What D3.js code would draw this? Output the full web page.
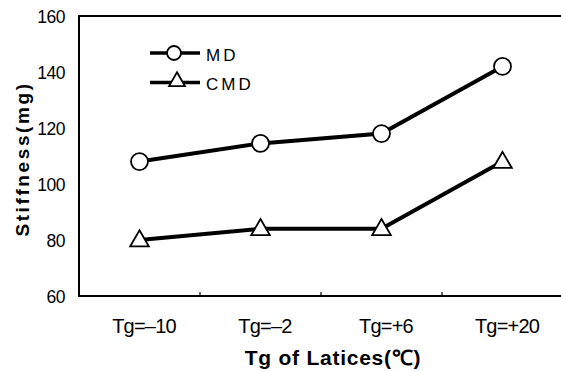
<!DOCTYPE html>
<html><head><meta charset="utf-8">
<script src="https://cdn.jsdelivr.net/npm/d3@7"></script>
<style>
body{margin:0;background:#fff;}
svg{display:block;font-family:"Liberation Sans",Arial,sans-serif;}
</style></head>
<body><svg id="c" width="561" height="371"></svg>
<script>
const categories = ["Tg=-10","Tg=-2","Tg=+6","Tg=+20"];
const mdValues = [108, 114.5, 118, 142];
const cmdValues = [80, 84, 84, 108];
const yTicks = [60, 80, 100, 120, 140, 160];
const seriesNames = ["MD", "CMD"];

(function(){
const svg = d3.select("#c");
const pLeft = 79, pRight = 563, pTop = 16, pBottom = 296;
const x = d3.scaleBand().domain(categories).range([pLeft, pRight]);
const y = d3.scaleLinear().domain([60, 160]).range([pBottom, pTop]);

svg.append("rect").attr("x", pLeft).attr("y", pTop).attr("width", pRight-pLeft).attr("height", pBottom-pTop)
  .attr("fill","none").attr("stroke","#000").attr("stroke-width",2);

svg.append("g").selectAll("line").data(categories.slice(1)).join("line")
  .attr("x1", d=>x(d)).attr("x2", d=>x(d)).attr("y1", pBottom).attr("y2", pBottom-4)
  .attr("stroke","#000").attr("stroke-width",1.2);

svg.append("g").selectAll("text").data(yTicks).join("text")
  .attr("x", 65).attr("y", d=>y(d)+6.5).attr("text-anchor","end")
  .attr("font-size",17.5).attr("letter-spacing",-0.5).text(d=>d);

svg.append("g").selectAll("text").data(categories).join("text")
  .attr("x", d=>x(d)+x.bandwidth()/2+4.5).attr("y", 333).attr("text-anchor","middle")
  .attr("font-size",20).attr("letter-spacing",-0.8).text(d=>d.replace("-","–"));

svg.append("text").attr("x", 333).attr("y", 365).attr("text-anchor","middle")
  .attr("font-size",21).attr("font-weight","bold").attr("letter-spacing",0.75).text("Tg of Latices(℃)");
svg.append("text").attr("transform","translate(29,159) rotate(-90)").attr("text-anchor","middle")
  .attr("font-size",19).attr("font-weight","bold").attr("letter-spacing",2.6).text("Stiffness(mg)");

const cx = d => x(d)+x.bandwidth()/2;
const line = d3.line().x(d=>cx(d[0])).y(d=>y(d[1]));
const mdData = categories.map((c,i)=>[c, mdValues[i]]);
const cmdData = categories.map((c,i)=>[c, cmdValues[i]]);

[mdData, cmdData].forEach(data=>{
  svg.append("path").attr("d", line(data)).attr("fill","none").attr("stroke","#000").attr("stroke-width",4);
});

const tri = d3.symbol().type(d3.symbolTriangle).size(150);

svg.append("g").selectAll("circle").data(mdData).join("circle")
  .attr("cx", d=>cx(d[0])).attr("cy", d=>y(d[1])).attr("r",8.5)
  .attr("fill","#fff").attr("stroke","#000").attr("stroke-width",1.8);
svg.append("g").selectAll("path").data(cmdData).join("path")
  .attr("d", tri).attr("transform", d=>`translate(${cx(d[0])},${y(d[1])+1})`)
  .attr("fill","#fff").attr("stroke","#000").attr("stroke-width",1.8);

const lg = svg.append("g");
[53, 82.5].forEach((ly,i)=>{
  lg.append("line").attr("x1",150).attr("x2",200).attr("y1",ly).attr("y2",ly).attr("stroke","#000").attr("stroke-width",3.5);
  if(i===0) lg.append("circle").attr("cx",174).attr("cy",ly).attr("r",7).attr("fill","#fff").attr("stroke","#000").attr("stroke-width",1.8);
  else lg.append("path").attr("d", d3.symbol().type(d3.symbolTriangle).size(110)).attr("transform",`translate(177,${ly-1})`)
    .attr("fill","#fff").attr("stroke","#000").attr("stroke-width",1.8);
  lg.append("text").attr("x",206).attr("y",ly+7.5).attr("font-size",17).attr("letter-spacing",3).text(seriesNames[i]);
});
})();
</script></body></html>
